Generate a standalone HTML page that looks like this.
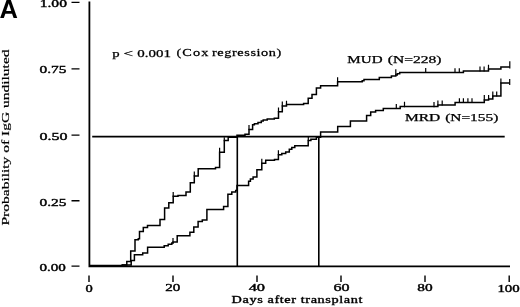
<!DOCTYPE html>
<html><head><meta charset="utf-8"><style>
html,body{margin:0;padding:0;background:#fff;width:520px;height:307px;overflow:hidden}
svg{display:block;filter:grayscale(1)}
</style></head><body>
<svg width="520" height="307" viewBox="0 0 520 307">
<rect width="520" height="307" fill="#fff"/>
<path d="M89.4 1.6 V266.3 H510" fill="none" stroke="#000" stroke-width="1.8"/>
<path d="M71.5 2.4 H79.5 M71.5 68.9 H79.5 M71.5 135.1 H79.5 M71.5 200.7 H79.5 M71.5 266.1 H79.5" stroke="#000" stroke-width="1.4"/>
<path d="M89.0 275.5 V282 M173.0 275.5 V282 M257.0 275.5 V282 M341.0 275.5 V282 M425.0 275.5 V282 M509.2 275.5 V282" stroke="#000" stroke-width="1.4"/>
<path d="M92.2 136.6 H504.7 M237.3 136.6 V266 M318.8 136.6 V266" fill="none" stroke="#000" stroke-width="1.6"/>
<path d="M89.5 265.6 H122.0 V265.0 H126.8 V261.6 H130.7 V251.1 H135.0 V239.7 H138.3 V238.7 H139.5 V231.6 H143.3 V227.5 H147.5 V225.6 H160.0 V219.5 H164.6 V208.1 H168.8 V202.8 H173.2 V196.3 H178.0 V195.4 H186.0 V192.0 H190.3 V182.8 H194.3 V176.0 H198.2 V168.7 H215.5 V167.5 H219.6 V152.3 H224.3 V140.6 H228.2 V137.3 H237.0 V135.3 H245.0 V134.3 H249.0 V129.5 H252.6 V124.7 H254.4 V123.7 H258.0 V122.4 H261.3 V121.0 H263.2 V120.1 H267.2 V119.1 H274.3 V118.2 H278.5 V111.7 H282.3 V106.0 H286.5 V104.5 H303.6 V103.4 H308.2 V98.2 H312.0 V94.6 H316.4 V88.0 H320.6 V85.7 H337.6 V81.8 H362.2 V80.8 H364.0 V79.6 H379.3 V77.6 H391.4 V76.1 H395.8 V75.0 H397.2 V73.7 H399.7 V72.4 H463.4 V70.9 H488.5 V69.1 H500.9 V67.0 H509.8 V67.0" fill="none" stroke="#000" stroke-width="1.5" stroke-linejoin="miter"/>
<path d="M122.0 265.0 H131.2 V260.4 H134.4 V254.7 H142.7 V253.0 H147.6 V247.2 H164.2 V245.7 H168.2 V244.3 H171.8 V243.0 H173.0 V242.0 H177.2 V235.7 H189.9 V232.3 H193.8 V226.9 H198.1 V221.5 H202.3 V220.0 H206.9 V209.5 H223.6 V206.6 H227.9 V194.3 H231.8 V192.0 H235.7 V190.6 H237.0 V185.5 H248.6 V181.3 H250.4 V179.0 H253.1 V176.9 H256.9 V169.7 H261.8 V163.2 H265.7 V160.2 H274.5 V159.5 H278.4 V154.7 H281.8 V153.4 H285.7 V151.9 H289.3 V149.3 H291.8 V147.5 H294.8 V145.7 H308.2 V140.5 H310.9 V139.3 H316.4 V137.3 H320.6 V132.1 H337.7 V126.6 H350.4 V120.9 H366.6 V115.5 H370.7 V112.1 H375.6 V110.5 H383.3 V108.4 H400.2 V106.6 H437.9 V105.0 H455.1 V102.4 H484.3 V99.9 H488.6 V99.0 H492.8 V96.0 H500.9 V83.0 H509.7 V83.0" fill="none" stroke="#000" stroke-width="1.5" stroke-linejoin="miter"/>
<path d="M173.2 196.9 V192.0 M224.3 141.2 V137.2 M194.3 176.6 V171.4 M219.6 152.9 V147.8 M249.0 130.1 V125.0 M278.5 112.3 V107.4 M282.3 106.6 V101.5 M286.5 105.1 V100.7 M337.6 82.4 V77.3 M395.8 75.6 V69.3 M425.7 73.0 V68.0 M455.0 73.0 V68.2 M459.3 73.0 V68.2 M480.0 71.5 V66.6 M484.1 71.5 V66.6 M488.5 69.7 V64.8 M509.8 68.6 V61.3 M173.0 243.6 V238.0 M261.8 163.8 V158.8 M278.4 155.3 V150.2 M308.3 140.8 V136.7 M396.3 109.0 V104.1 M404.5 107.2 V101.8 M434.0 107.2 V102.0 M437.9 105.6 V100.5 M442.2 105.6 V100.5 M459.4 103.0 V98.2 M463.4 103.0 V98.2 M467.9 103.0 V98.2 M472.0 103.0 V98.3 M484.3 100.5 V95.0 M488.6 99.6 V95.0 M492.8 96.6 V91.6 M496.7 96.6 V91.6 M500.9 83.6 V78.6 M509.7 84.9 V79.0" fill="none" stroke="#000" stroke-width="1.2"/>
<text x="39.69" y="7.00" style="font-family:'Liberation Serif',serif;stroke:#000;stroke-width:0.35px;font-size:9.30px" textLength="27.25" lengthAdjust="spacingAndGlyphs">1.00</text>
<text x="39.50" y="73.00" style="font-family:'Liberation Serif',serif;stroke:#000;stroke-width:0.35px;font-size:9.30px" textLength="26.87" lengthAdjust="spacingAndGlyphs">0.75</text>
<text x="39.45" y="140.00" style="font-family:'Liberation Serif',serif;stroke:#000;stroke-width:0.35px;font-size:9.30px" textLength="27.96" lengthAdjust="spacingAndGlyphs">0.50</text>
<text x="39.51" y="205.50" style="font-family:'Liberation Serif',serif;stroke:#000;stroke-width:0.35px;font-size:9.30px" textLength="26.89" lengthAdjust="spacingAndGlyphs">0.25</text>
<text x="39.50" y="270.65" style="font-family:'Liberation Serif',serif;stroke:#000;stroke-width:0.35px;font-size:9.30px" textLength="26.38" lengthAdjust="spacingAndGlyphs">0.00</text>
<text x="85.55" y="291.75" style="font-family:'Liberation Serif',serif;stroke:#000;stroke-width:0.35px;font-size:9.30px" textLength="7.26" lengthAdjust="spacingAndGlyphs">0</text>
<text x="165.34" y="291.00" style="font-family:'Liberation Serif',serif;stroke:#000;stroke-width:0.35px;font-size:9.30px" textLength="15.03" lengthAdjust="spacingAndGlyphs">20</text>
<text x="248.67" y="291.00" style="font-family:'Liberation Serif',serif;stroke:#000;stroke-width:0.35px;font-size:9.30px" textLength="16.40" lengthAdjust="spacingAndGlyphs">40</text>
<text x="333.40" y="291.15" style="font-family:'Liberation Serif',serif;stroke:#000;stroke-width:0.35px;font-size:9.30px" textLength="16.05" lengthAdjust="spacingAndGlyphs">60</text>
<text x="417.37" y="291.00" style="font-family:'Liberation Serif',serif;stroke:#000;stroke-width:0.35px;font-size:9.30px" textLength="15.32" lengthAdjust="spacingAndGlyphs">80</text>
<text transform="scale(1.350 1)" x="171.54" y="303.50" style="font-family:'Liberation Serif',serif;stroke:#000;stroke-width:0.35px;font-size:10.60px" textLength="96.92" lengthAdjust="spacing">Days after transplant</text>
<text x="137.25" y="56.50" style="font-family:'Liberation Serif',serif;stroke:#000;stroke-width:0.25px;font-size:11.00px" textLength="33.62" lengthAdjust="spacingAndGlyphs">0.001</text>
<text x="112.17" y="56.50" style="font-family:'Liberation Serif',serif;stroke:#000;stroke-width:0.25px;font-size:11.00px" textLength="7.36" lengthAdjust="spacingAndGlyphs">p</text>
<text x="123.58" y="56.50" style="font-family:'Liberation Serif',serif;stroke:#000;stroke-width:0.25px;font-size:11.00px" textLength="9.58" lengthAdjust="spacingAndGlyphs">&lt;</text>
<text transform="scale(1.300 1)" x="135.69" y="56.50" style="font-family:'Liberation Serif',serif;stroke:#000;stroke-width:0.25px;font-size:11.00px" textLength="24.55" lengthAdjust="spacing">(Cox</text>
<text transform="scale(1.300 1)" x="163.01" y="56.50" style="font-family:'Liberation Serif',serif;stroke:#000;stroke-width:0.25px;font-size:11.00px" textLength="53.42" lengthAdjust="spacing">regression)</text>
<text x="347.38" y="63.00" style="font-family:'Liberation Serif',serif;stroke:#000;stroke-width:0.25px;font-size:9.60px" textLength="35.16" lengthAdjust="spacingAndGlyphs">MUD</text>
<text x="387.88" y="63.00" style="font-family:'Liberation Serif',serif;stroke:#000;stroke-width:0.25px;font-size:9.60px" textLength="53.66" lengthAdjust="spacingAndGlyphs">(N=228)</text>
<text x="405.03" y="120.91" style="font-family:'Liberation Serif',serif;stroke:#000;stroke-width:0.25px;font-size:9.60px" textLength="35.30" lengthAdjust="spacingAndGlyphs">MRD</text>
<text x="445.22" y="120.91" style="font-family:'Liberation Serif',serif;stroke:#000;stroke-width:0.25px;font-size:9.60px" textLength="53.09" lengthAdjust="spacingAndGlyphs">(N=155)</text>
<text x="497.4" y="292.00" style="font-family:'Liberation Serif',serif;stroke:#000;stroke-width:0.35px;font-size:9.30px" textLength="22.30" lengthAdjust="spacingAndGlyphs">100</text>
<text transform="translate(9.00,225.50) rotate(-90)" style="font-family:'Liberation Serif',serif;stroke:#000;stroke-width:0.2px;font-size:10.80px" textLength="176.01" lengthAdjust="spacingAndGlyphs">Probability of IgG undiluted</text>
<text x="-0.40" y="17.50" style="font-family:'Liberation Sans',sans-serif;font-weight:bold;font-size:25.00px" textLength="18.44" lengthAdjust="spacingAndGlyphs">A</text>
</svg>
</body></html>
